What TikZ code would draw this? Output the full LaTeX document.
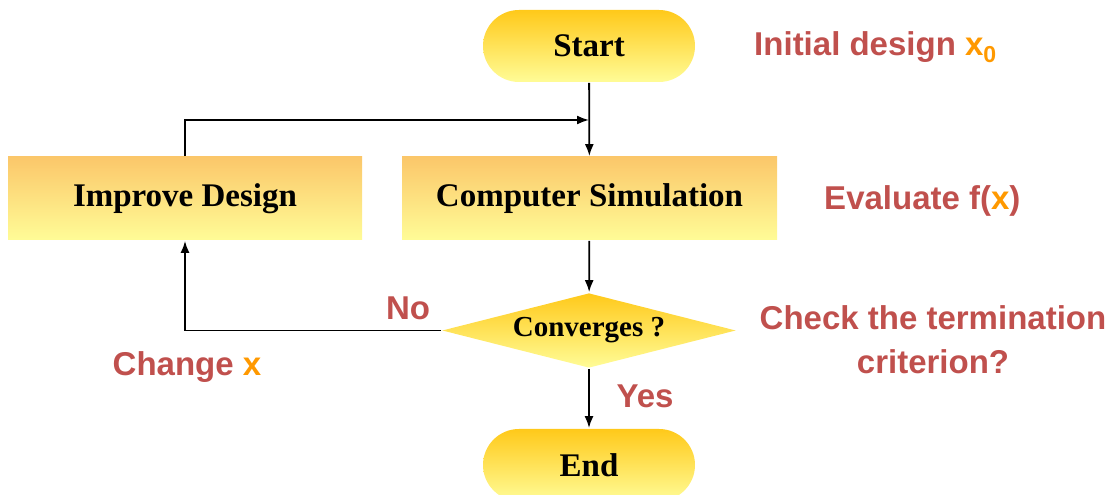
\documentclass[tikz,border=0pt]{standalone}
\usepackage{fontspec}
\setmainfont{Liberation Serif}
\newfontfamily\notefont{Liberation Sans}
\usetikzlibrary{positioning,shapes.geometric,arrows.meta}
\definecolor{notered}{HTML}{C0504D}
\definecolor{noteorange}{HTML}{FF9900}
\definecolor{goldtop}{HTML}{FFC91A}
\definecolor{tantop}{HTML}{FBC76A}
\definecolor{palebottom}{HTML}{FFFC97}
\tikzset{%
  terminal/.style={
    rectangle,
    rounded corners=36pt,
    minimum width=212pt,
    minimum height=72pt,
    top color=goldtop,
    bottom color=palebottom,
    font=\bfseries\fontsize{33}{36}\selectfont
  },
  process/.style={
    rectangle,
    minimum height=83pt,
    top color=tantop,
    bottom color=palebottom,
    font=\bfseries\fontsize{33}{36}\selectfont
  },
  decision/.style={
    diamond,
    aspect=3.9,
    inner sep=0pt,
    minimum width=294pt,
    minimum height=75pt,
    top color=goldtop,
    bottom color=palebottom,
    font=\bfseries\fontsize{29}{32}\selectfont
  },
  note/.style={
    text=notered,
    font=\notefont\bfseries\fontsize{33}{44}\selectfont
  },
}
\newcommand{\hl}[1]{\textcolor{noteorange}{#1}}

\begin{document}
\begin{tikzpicture}[x=1pt,y=1pt,>={Latex[length=12pt,width=9pt]},line width=1.8pt]
        \useasboundingbox (0,0) rectangle (1117,495);

        \node[terminal] (start) at (589,449) {Start};
        \node[process,minimum width=375pt] (sim) at (589.5,296.5) {Computer Simulation};
        \node[process,minimum width=354pt] (improve) at (185,296.5) {Improve Design};
        \node[decision] (conv) at (589,164.5) {Converges ?};
        \node[terminal] (end) at (589,30) {End};
        \coordinate (join) at (589,375);

        \node[note,anchor=west] (init) at (750,448) {Initial design \hl{x\textsubscript{0}}};
        \node[note,anchor=west] (eval) at (820,294) {Evaluate f(\hl{x})};
        \node[note,align=center] (check) at (933,155) {Check the termination\\criterion?};
        \node[note] (no) at (408,187) {No};
        \node[note] (yes) at (645,99) {Yes};
        \node[note] (change) at (187,128) {Change \hl{x}};

        \draw[->] (start) -- (sim);
        \draw[->] (improve.north) |- (join);
        \draw[->] (sim) -- (conv);
        \draw[->] (conv.west) -| (improve.south);
        \draw[->] (conv) -- (end);
    \end{tikzpicture}
\end{document}
